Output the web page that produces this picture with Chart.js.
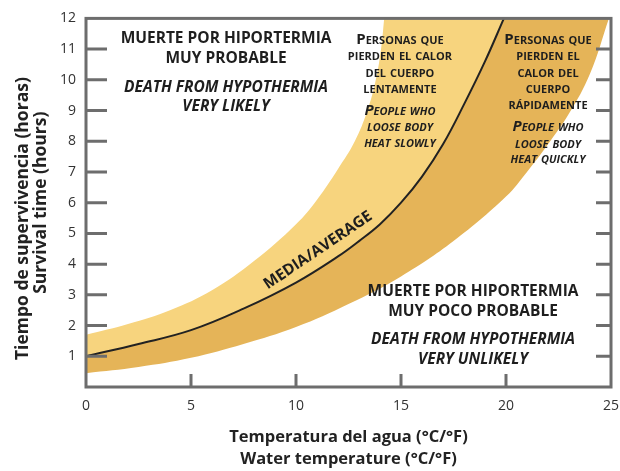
<!DOCTYPE html>
<html>
<head>
<meta charset="utf-8">
<script src="https://cdn.jsdelivr.net/npm/chart.js@4.4.1/dist/chart.umd.min.js"></script>
<style>
  html, body { margin: 0; padding: 0; background: #fff; }
  #chart { display: block; }
</style>
</head>
<body>
<canvas id="chart" width="620" height="471"></canvas>
<script>
// survival time (hours) against water temperature (°C)
const slowEdge = [
  [0, 1.7], [2, 2.05], [4, 2.5], [6, 3.15], [8, 4.1], [10, 5.3], [11, 6.1],
  [12, 7.1], [12.8, 8.0], [13.4, 9.0], [13.8, 10.0], [14.05, 11], [14.2, 12]
];
const average = [
  [0, 1], [2.5, 1.4], [5, 1.85], [7.5, 2.55], [10, 3.4], [12, 4.25], [13, 4.75],
  [14, 5.3], [15, 6.0], [16, 6.85], [17, 7.9], [18, 9.2], [19, 10.6], [19.9, 12]
];
const quickEdge = [
  [0, 0.45], [2.5, 0.65], [5, 0.95], [7.5, 1.4], [10, 1.95], [12.5, 2.7], [15, 3.6],
  [17.5, 4.75], [20, 6.2], [21, 7.0], [22, 7.9], [23, 8.9], [24, 10.2], [24.9, 12]
];
const xTicks = [0, 5, 10, 15, 20, 25];
const yTicks = [1, 2, 3, 4, 5, 6, 7, 8, 9, 10, 11, 12];

const FONT = "'Open Sans', sans-serif";
const toPts = arr => arr.map(([x, y]) => ({ x, y }));

// text blocks inside the plot; anchor in data units, line offsets in px
const notes = [
  { x: 6.67, y: 11.38, big: 15.5, small: 15.5, lines: [
    ['MUERTE POR HIPORTERMIA', 0], ['MUY PROBABLE', 20],
    ['DEATH FROM HYPOTHERMIA', 49, true], ['VERY LIKELY', 68, true]] },
  { x: 14.95, y: 11.3, big: 15, small: 11, lines: [
    ['Personas que', 0], ['pierden el calor', 16], ['del cuerpo', 33], ['lentamente', 49],
    ['People who', 71, true], ['loose body', 87, true], ['heat slowly', 103, true]] },
  { x: 22.0, y: 11.3, big: 15, small: 11, lines: [
    ['Personas que', 0], ['pierden el', 16], ['calor del', 33], ['cuerpo', 49], ['rápidamente', 65],
    ['People who', 87, true], ['loose body', 104, true], ['heat quickly', 119, true]] },
  { x: 18.43, y: 3.16, big: 15.5, small: 15.5, lines: [
    ['MUERTE POR HIPORTERMIA', 0], ['MUY POCO PROBABLE', 20],
    ['DEATH FROM HYPOTHERMIA', 48, true], ['VERY UNLIKELY', 68, true]] }
];

function drawCaps(ctx, str, cx, cy, big, small, italic) {
  const parts = [];
  let w = 0;
  for (const ch of str) {
    const lower = ch !== ch.toUpperCase();
    const size = lower ? small : big;
    ctx.font = `${italic ? 'italic ' : ''}bold ${size}px ${FONT}`;
    const cw = ctx.measureText(ch.toUpperCase()).width;
    parts.push({ ch: ch.toUpperCase(), font: ctx.font, cw });
    w += cw;
  }
  let x = cx - w / 2;
  parts.forEach(p => {
    ctx.font = p.font;
    ctx.fillText(p.ch, x, cy);
    x += p.cw;
  });
}

const framePlugin = {
  id: 'frame',
  afterDatasetsDraw(chart) {
    const { ctx, chartArea: a, scales: { x, y } } = chart;
    ctx.save();
    ctx.strokeStyle = '#6d6d6d';
    ctx.lineWidth = 3;
    ctx.strokeRect(a.left, a.top, a.right - a.left, a.bottom - a.top);
    yTicks.slice(0, -1).forEach(v => {
      const py = y.getPixelForValue(v);
      ctx.beginPath();
      ctx.moveTo(a.left, py); ctx.lineTo(a.left + 21, py);
      ctx.moveTo(a.right, py); ctx.lineTo(a.right - 15, py);
      ctx.stroke();
    });
    xTicks.slice(1, -1).forEach(v => {
      const px = x.getPixelForValue(v);
      ctx.beginPath();
      ctx.moveTo(px, a.bottom); ctx.lineTo(px, a.bottom - 13);
      ctx.stroke();
    });
    ctx.restore();
  },
  afterDraw(chart) {
    const { ctx, scales: { x, y } } = chart;
    ctx.save();
    ctx.fillStyle = '#1e1e1e';
    ctx.textBaseline = 'alphabetic';
    ctx.textAlign = 'left';
    notes.forEach(n => {
      const cx = x.getPixelForValue(n.x);
      const top = y.getPixelForValue(n.y);
      n.lines.forEach(([t, dy, it]) => {
        drawCaps(ctx, t, cx, top + dy + n.small * 0.36, n.big, n.small, it);
      });
    });
    // label along the average curve
    ctx.translate(x.getPixelForValue(11.05), y.getPixelForValue(4.45));
    ctx.rotate(-34 * Math.PI / 180);
    ctx.textAlign = 'center';
    ctx.textBaseline = 'middle';
    ctx.font = `bold 15.5px ${FONT}`;
    ctx.fillText('MEDIA/AVERAGE', 0, 0);
    ctx.restore();
  }
};

const curve = { borderWidth: 0, pointRadius: 0, tension: 0.4 };

new Chart(document.getElementById('chart'), {
  type: 'line',
  data: {
    datasets: [
      // fills are painted last-to-first: quick edge, then average, then slow edge
      { ...curve, data: toPts(slowEdge), fill: 'end', backgroundColor: '#ffffff' },
      { ...curve, data: toPts(average), fill: 'end', backgroundColor: '#f7d47e',
        borderColor: '#222', borderWidth: 2 },
      { ...curve, data: toPts(quickEdge), fill: 'end', backgroundColor: '#e5b458' }
    ]
  },
  options: {
    responsive: false,
    animation: false,
    layout: { padding: { top: 15, right: 9 } },
    plugins: {
      legend: { display: false },
      tooltip: { enabled: false },
      filler: { drawTime: 'beforeDatasetsDraw' }
    },
    scales: {
      x: {
        type: 'linear', min: 0, max: 25,
        afterBuildTicks: s => { s.ticks = xTicks.map(v => ({ value: v })); },
        afterFit: s => { s.height = 84; s.paddingLeft = 0; s.paddingRight = 0; },
        grid: { display: false, drawTicks: false },
        border: { display: false },
        ticks: { color: '#333', font: { family: FONT, size: 14 }, padding: 11, maxRotation: 0 },
        title: {
          display: true, color: '#222', padding: { top: 0, bottom: 0 },
          text: ['Temperatura del agua (°C/°F)', 'Water temperature (°C/°F)'],
          font: { family: FONT, size: 16.5, weight: 'bold', lineHeight: 1.38 }
        }
      },
      y: {
        min: 0, max: 12,
        afterBuildTicks: s => { s.ticks = yTicks.map(v => ({ value: v })); },
        afterFit: s => { s.width = 86; },
        grid: { display: false, drawTicks: false },
        border: { display: false },
        ticks: { color: '#333', font: { family: FONT, size: 14 }, padding: 10 },
        title: {
          display: true, color: '#222', padding: { top: 14, bottom: 0 },
          text: ['Tiempo de supervivencia (horas)' + '\u00a0'.repeat(7), 'Survival time (hours)'],
          font: { family: FONT, size: 17.5, weight: 'bold', lineHeight: 1.03 }
        }
      }
    }
  },
  plugins: [framePlugin]
});
</script>
</body>
</html>
